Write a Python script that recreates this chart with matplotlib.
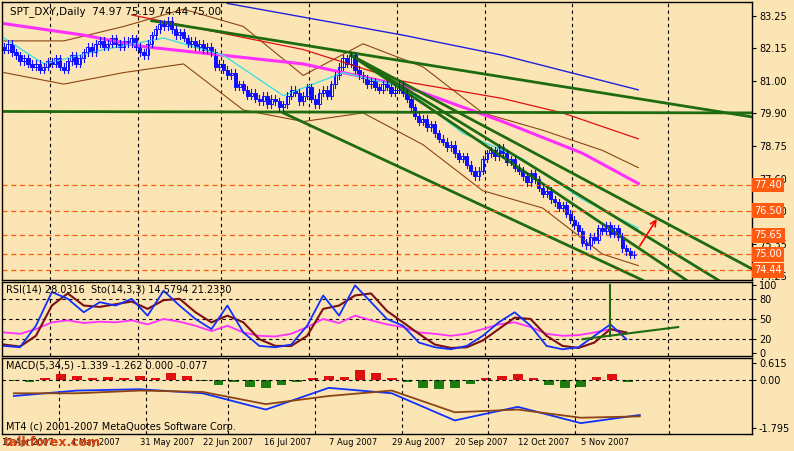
import matplotlib
matplotlib.use("Agg")
import matplotlib.pyplot as plt
import numpy as np

BG = "#fce5b4"

# daily closes, one per bar
closes = [82.1, 82.3, 82.0, 81.9, 81.7, 81.8, 81.6, 81.5, 81.6, 81.4, 81.5,
          81.7, 81.6, 81.8, 81.5, 81.4, 81.7, 81.9, 81.6, 81.8, 82.0,
          82.2, 82.0, 82.3, 82.4, 82.2, 82.3, 82.5, 82.3, 82.2, 82.4,
          82.3, 82.5, 82.2, 82.0, 81.9, 82.3, 82.6, 82.8, 83.0, 82.9,
          83.1, 82.8, 82.6, 82.7, 82.5, 82.3, 82.4, 82.2, 82.3, 82.1,
          82.2, 82.0, 81.5, 81.6, 81.4, 81.2, 81.3, 80.8, 80.9, 80.7,
          80.5, 80.6, 80.4, 80.3, 80.5, 80.2, 80.4, 80.3, 80.1, 80.2,
          80.5, 80.7, 80.6, 80.3, 80.5, 80.8, 80.4, 80.2, 80.6, 80.7,
          80.5, 80.9, 81.2, 81.5, 81.8, 81.6, 81.9, 81.4, 81.2, 81.1,
          80.9, 81.0, 80.8, 80.7, 80.9, 80.8, 80.6, 80.7, 80.9, 80.6,
          80.4, 80.1, 79.8, 79.6, 79.7, 79.4, 79.5, 79.2, 79.0, 78.9,
          78.7, 78.8, 78.5, 78.3, 78.4, 78.1, 77.9, 77.7, 77.9, 78.3,
          78.5, 78.6, 78.4, 78.7, 78.5, 78.2, 78.3, 78.0, 77.9, 77.7,
          77.5, 77.8, 77.6, 77.3, 77.1, 77.2, 76.9, 76.8, 76.6, 76.7,
          76.4, 76.2, 76.0, 75.8, 75.4, 75.3, 75.6, 75.5, 75.9, 75.8,
          76.0, 75.7, 75.9, 75.6, 75.2, 75.1, 74.97, 75.00]

# indicator lines as (bar, price) anchor points
ma_blue_x = [56, 100, 125, 159]
ma_blue_y = [83.7, 82.6, 81.9, 80.7]
ma_mag_x = [0, 20, 35, 75, 100, 125, 145, 159]
ma_mag_y = [83.0, 82.6, 82.2, 81.6, 80.85, 79.6, 78.5, 77.45]
ma_red_x = [32, 75, 100, 125, 140, 159]
ma_red_y = [83.3, 82.1, 81.0, 80.4, 79.9, 79.0]
ma_cyan_x = [0, 10, 25, 40, 55, 70, 85, 100, 115, 130, 145, 159]
ma_cyan_y = [82.5, 81.6, 82.1, 82.5, 81.9, 80.5, 81.3, 80.8, 79.2, 78.3, 76.9, 75.9]
bb_up_x = [0, 15, 30, 45, 60, 75, 90, 105, 120, 135, 150, 159]
bb_up_y = [82.4, 82.4, 82.9, 83.5, 82.9, 81.2, 82.3, 81.5, 79.9, 79.3, 78.6, 78.0]
bb_lo_x = [0, 15, 30, 45, 60, 75, 90, 105, 120, 135, 150, 159]
bb_lo_y = [81.3, 80.9, 81.3, 81.6, 80.0, 79.6, 79.9, 78.8, 77.2, 76.6, 75.0, 74.6]

# trend lines (bar0, price0, bar1, price1)
trend_lines = [(37, 83.1, 188, 79.75),
               (0, 79.95, 188, 79.9),
               (87, 81.9, 188, 74.45),
               (87, 81.9, 179, 74.1),
               (87, 81.9, 171, 74.1),
               (70, 79.9, 160, 74.1)]

level_vals = [77.40, 76.50, 75.65, 75.00, 74.44]
price_ticks = [83.25, 82.15, 81.00, 79.90, 78.75, 77.60, 76.50, 75.35, 74.25]

# oscillators, one value every 4 bars
osc_bars = list(range(0, 160, 4))
stoch_k = [10, 8, 40, 90, 80, 60, 75, 70, 80, 55, 92, 70, 50, 35, 70, 30, 10, 8, 12, 40,
           85, 55, 100, 75, 50, 40, 15, 8, 5, 10, 25, 45, 60, 40, 10, 5, 8, 25, 42, 20]
stoch_d = [12, 9, 25, 70, 88, 70, 68, 72, 76, 65, 78, 80, 60, 45, 55, 45, 20, 10, 10, 25,
           65, 70, 85, 88, 62, 45, 28, 12, 7, 8, 18, 35, 52, 50, 25, 10, 7, 15, 35, 30]
rsi = [30, 28, 35, 45, 48, 44, 46, 45, 48, 42, 50, 46, 40, 32, 40, 30, 25, 24, 28, 38,
       50, 44, 55, 48, 42, 38, 30, 28, 25, 28, 35, 42, 45, 38, 28, 25, 26, 30, 35, 28]
macd_hist = [-0.05, -0.1, 0.05, 0.2, 0.15, 0.05, 0.1, 0.08, 0.12, 0.05, 0.25, 0.15, -0.05,
             -0.2, -0.1, -0.25, -0.3, -0.2, -0.1, 0.05, 0.15, 0.1, 0.35, 0.25, 0.05, -0.1,
             -0.3, -0.35, -0.3, -0.15, 0.05, 0.15, 0.2, 0.05, -0.2, -0.3, -0.25, 0.1, 0.2, -0.1]
macd_x = [0, 16, 32, 48, 64, 80, 96, 112, 128, 144, 159]
macd_main = [-0.6, -0.4, -0.35, -0.5, -1.1, -0.3, -0.5, -1.5, -1.0, -1.6, -1.3]
macd_sig = [-0.5, -0.5, -0.4, -0.45, -0.9, -0.6, -0.4, -1.2, -1.1, -1.4, -1.35]

date_labels = ["12 Apr 2007", "4 May 2007", "31 May 2007", "22 Jun 2007", "16 Jul 2007",
               "7 Aug 2007", "29 Aug 2007", "20 Sep 2007", "12 Oct 2007", "5 Nov 2007"]
date_bars = [-3, 14.5, 32, 48, 63.5, 80, 96, 112, 128, 144]
vline_bars = [11.5, 33.5, 54.5, 76.5, 98.5, 120.5, 142.5, 166.5]

fig = plt.figure(figsize=(7.94, 4.51), dpi=100, facecolor=BG)
W, H = 794, 451
def box(y0, y1):
    return [2 / W, 1 - y1 / H, 750 / W, (y1 - y0) / H]
ax = fig.add_axes(box(2, 280))
ax_r = fig.add_axes(box(282, 356))
ax_m = fig.add_axes(box(358, 434))
XMAX = 187.5
for a in (ax, ax_r, ax_m):
    a.set_facecolor(BG)
    a.set_xlim(-0.5, XMAX)
    a.yaxis.tick_right()
    a.tick_params(axis="y", labelsize=7, length=3, pad=2)
    a.tick_params(axis="x", length=0, labelbottom=False)
    for s in a.spines.values():
        s.set_linewidth(1)
    for vb in vline_bars:
        a.axvline(vb, color="black", ls=(0, (3, 3)), lw=0.8)

# price panel
ax.set_ylim(74.1, 83.75)
ax.set_yticks(price_ticks)
ax.set_yticklabels([f"{v:.2f}" for v in price_ticks])
ax.plot(bb_up_x, bb_up_y, color="#8b4513", lw=0.8)
ax.plot(bb_lo_x, bb_lo_y, color="#8b4513", lw=0.8)
ax.plot(ma_blue_x, ma_blue_y, color="#2020e0", lw=1)
ax.plot(ma_red_x, ma_red_y, color="#e01010", lw=0.9)
ax.plot(ma_mag_x, ma_mag_y, color="#ff30ff", lw=2.2)
ax.plot(ma_cyan_x, ma_cyan_y, color="#40e0e0", lw=1)
for b0, p0, b1, p1 in trend_lines:
    ax.plot([b0, b1], [p0, p1], color="#1e6b10", lw=2)
for v in level_vals:
    ax.axhline(v, color="#ff5a10", ls=(0, (4, 3)), lw=0.9)
    ax.text(1.003, v, f"{v:.2f}", transform=ax.get_yaxis_transform(), va="center",
            ha="left", fontsize=7, color="white", zorder=5,
            bbox=dict(boxstyle="square,pad=0.25", fc="#ff5a10", ec="none"))
for i, c in enumerate(closes):
    o = closes[i - 1] if i else c + 0.1
    hi, lo = max(o, c) + 0.12, min(o, c) - 0.12
    ax.plot([i, i], [lo, hi], color="#1010ff", lw=0.8)
    ax.add_patch(plt.Rectangle((i - 0.4, min(o, c)), 0.8, max(abs(c - o), 0.02),
                               fc="white" if c >= o else "#1010ff", ec="#1010ff", lw=0.7))
ax.annotate("", xy=(164, 76.3), xytext=(159, 75.2),
            arrowprops=dict(arrowstyle="->", color="red", lw=1.2))
ax.text(0.01, 0.985, "SPT_DXY,Daily  74.97 75.19 74.44 75.00", transform=ax.transAxes,
        fontsize=7.5, va="top")

# RSI / stochastic panel
ax_r.set_ylim(-5, 105)
ax_r.set_yticks([100, 80, 50, 20, 0])
for v in (80, 50, 20):
    ax_r.axhline(v, color="black", ls=(0, (3, 3)), lw=0.8)
ax_r.plot(osc_bars, rsi, color="#ff30ff", lw=1.3)
ax_r.plot(osc_bars, stoch_d, color="#7b1010", lw=1.5)
ax_r.plot(osc_bars, stoch_k, color="#1030ff", lw=1.3)
ax_r.plot([152, 152], [25, 100], color="#1e6b10", lw=1.5, clip_on=False)
ax_r.plot([145, 169], [20, 38], color="#1e6b10", lw=1.5)
ax_r.text(0.005, 0.97, "RSI(14) 28.0316  Sto(14,3,3) 14.5794 21.2330", transform=ax_r.transAxes,
          fontsize=7, va="top")

# MACD panel
ax_m.set_ylim(-2.0, 0.8)
ax_m.set_yticks([0.615, 0.0, -1.795])
ax_m.set_yticklabels(["0.615", "0.00", "-1.795"])
ax_m.axhline(0, color="black", ls=(0, (3, 3)), lw=0.8)
ax_m.bar(osc_bars, macd_hist, width=2.5,
         color=["#e01010" if h > 0 else "#1e7b10" for h in macd_hist])
ax_m.plot(macd_x, macd_main, color="#1030ff", lw=1.3)
ax_m.plot(macd_x, macd_sig, color="#8b4513", lw=1.3)
ax_m.text(0.005, 0.97, "MACD(5,34,5) -1.339 -1.262 0.000 -0.077", transform=ax_m.transAxes,
          fontsize=7, va="top")
ax_m.text(0.005, 0.03, "MT4 (c) 2001-2007 MetaQuotes Software Corp.", transform=ax_m.transAxes,
          fontsize=7, va="bottom")
ax_m.set_xticks(date_bars)
ax_m.set_xticklabels(date_labels, fontsize=6, ha="left")
ax_m.tick_params(axis="x", labelbottom=True, pad=3)
fig.text(0.005, 0.01, "talkforex.com", fontsize=9, color="#d04010", weight="bold")

fig.savefig("out.png", dpi=100, facecolor=BG)
